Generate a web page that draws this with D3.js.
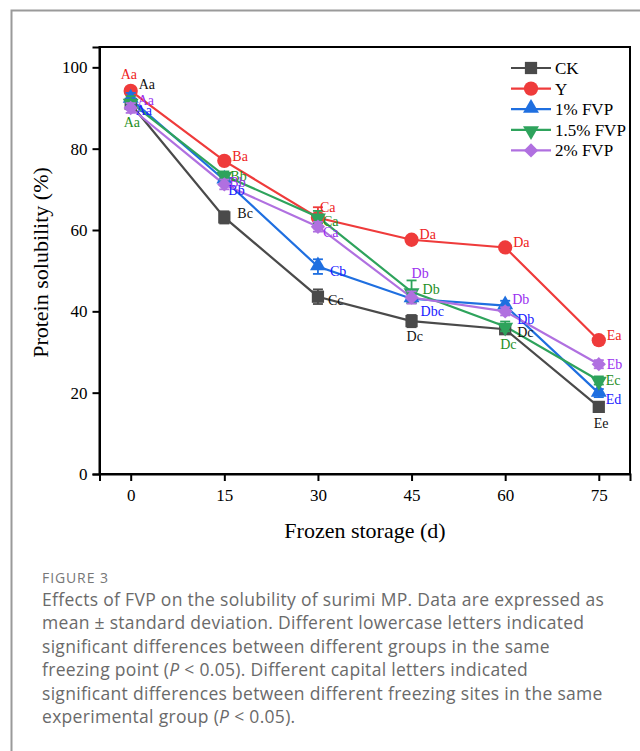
<!DOCTYPE html>
<html>
<head>
<meta charset="utf-8">
<script src="https://cdn.jsdelivr.net/npm/d3@7/dist/d3.min.js"></script>
<style>
  html, body { margin: 0; padding: 0; background: #fff; }
  svg { display: block; }
</style>
</head>
<body>
<script>
// Frozen storage days
const days = [0, 15, 30, 45, 60, 75];
const yTicks = [0, 20, 40, 60, 80, 100];

// Protein solubility (%) per group
const ck      = [91.0, 63.1, 43.6, 37.6, 35.6, 16.5];
const yeast   = [94.2, 77.0, 63.0, 57.6, 55.7, 32.9];
const fvp1    = [92.2, 72.3, 51.0, 43.1, 41.4, 19.9];
const fvp15   = [91.4, 73.4, 63.2, 44.8, 36.3, 23.0];
const fvp2    = [90.0, 71.2, 60.8, 43.4, 40.0, 27.0];

// Standard deviations
const ckSd    = [1.2, 1.5, 1.8, 1.5, 1.0, 1.0];
const yeastSd = [1.0, 0.8, 2.6, 0.8, 0.8, 0.8];
const fvp1Sd  = [1.5, 1.0, 1.8, 1.0, 1.2, 1.0];
const fvp15Sd = [1.5, 1.0, 1.5, 2.8, 1.2, 1.0];
const fvp2Sd  = [1.2, 1.2, 1.2, 1.5, 1.0, 1.0];

// Significance letters
const ckLbl    = ["Aa", "Bc", "Cc", "Dc", "Dc", "Ee"];
const yeastLbl = ["Aa", "Ba", "Ca", "Da", "Da", "Ea"];
const fvp1Lbl  = ["Aa", "Bb", "Cb", "Dbc", "Db", "Ed"];
const fvp15Lbl = ["Aa", "Bb", "Ca", "Db", "Dc", "Ec"];
const fvp2Lbl  = ["Aa", "Bb", "Ca", "Db", "Db", "Eb"];

const seriesNames = ["CK", "Y", "1% FVP", "1.5% FVP", "2% FVP"];

// Letter placement: pixel offsets of the text's left/baseline from the point
const ckOff    = [[8,-20],[13,-4],[10,3],[-5,15],[12,3],[-5,16]];
const yeastOff = [[-10,-17],[8,-5],[2,-11],[8,-6],[8,-5],[8,-5]];
const fvp1Off  = [[5,11],[4,10],[12,4],[9,12],[12,13],[7,6]];
const fvp15Off = [[-7,20],[6,0],[5,4],[11,-3],[-5,18],[7,0]];
const fvp2Off  = [[7,-8],[5,-2],[5,5],[0,-25],[7,-12],[8,0]];

const series = [
  { name: seriesNames[0], v: ck,    sd: ckSd,    lbl: ckLbl,    off: ckOff,    color: "#4a4a4a", text: "#111111", shape: "square" },
  { name: seriesNames[1], v: yeast, sd: yeastSd, lbl: yeastLbl, off: yeastOff, color: "#ef3b3b", text: "#ee2222", shape: "circle" },
  { name: seriesNames[2], v: fvp1,  sd: fvp1Sd,  lbl: fvp1Lbl,  off: fvp1Off,  color: "#1f6fe0", text: "#1a1aff", shape: "triUp" },
  { name: seriesNames[3], v: fvp15, sd: fvp15Sd, lbl: fvp15Lbl, off: fvp15Off, color: "#2ea35c", text: "#1f8f1f", shape: "triDown" },
  { name: seriesNames[4], v: fvp2,  sd: fvp2Sd,  lbl: fvp2Lbl,  off: fvp2Off,  color: "#b070e0", text: "#9a30f0", shape: "diamond" }
];

const W = 640, H = 751;
const svg = d3.select("body").append("svg").attr("width", W).attr("height", H);

// Panel frame
svg.append("path")
  .attr("d", "M11.5,760 V10.5 H650")
  .attr("fill", "none").attr("stroke", "#9a9a9a").attr("stroke-width", 2);

const L = 99.5, R = 630, T = 47, B = 474;
const x = d3.scaleLinear().domain([-5, 80]).range([L, R]);
const y = d3.scaleLinear().domain([0, 105]).range([B, T]);

const serif = "'Liberation Serif', 'Times New Roman', serif";

// Plot box
svg.append("rect").attr("x", L).attr("y", T).attr("width", R - L).attr("height", B - T)
  .attr("fill", "none").attr("stroke", "#000").attr("stroke-width", 2);

const yAxis = svg.append("g").attr("transform", `translate(${L},0)`)
  .call(d3.axisLeft(y).tickValues(yTicks).tickSize(7).tickPadding(5));
const xAxis = svg.append("g").attr("transform", `translate(0,${B})`)
  .call(d3.axisBottom(x).tickValues(days).tickSize(7).tickPadding(8));
[yAxis, xAxis].forEach(g => {
  g.select(".domain").attr("stroke", "#000").attr("stroke-width", 2);
  g.selectAll(".tick line").attr("stroke", "#000").attr("stroke-width", 2);
  g.selectAll(".tick text").attr("font-family", serif).attr("font-size", 17).attr("fill", "#000");
});

svg.append("text").attr("transform", `translate(48,${(T + B) / 2 + 2}) rotate(-90)`)
  .attr("text-anchor", "middle").attr("font-family", serif).attr("font-size", 22)
  .text("Protein solubility (%)");
svg.append("text").attr("x", 365).attr("y", 538)
  .attr("text-anchor", "middle").attr("font-family", serif).attr("font-size", 22)
  .text("Frozen storage (d)");

function marker(g, shape, color, cx, cy, s) {
  const sym = { square: d3.symbolSquare, circle: d3.symbolCircle, triUp: d3.symbolTriangle,
                triDown: d3.symbolTriangle, diamond: d3.symbolDiamond2 }[shape];
  const size = { square: 150, circle: 160, triUp: 110, triDown: 110, diamond: 130 }[shape] * s;
  let tr = `translate(${cx},${cy})`;
  if (shape === "triUp") tr = `translate(${cx},${cy - 1})`;
  if (shape === "triDown") tr = `translate(${cx},${cy + 1}) rotate(180)`;
  g.append("path").attr("d", d3.symbol(sym, size)()).attr("transform", tr).attr("fill", color);
}

const line = d3.line().x((d, i) => x(days[i])).y(d => y(d));

const plot = svg.append("g");
series.forEach(s => {
  plot.append("path").datum(s.v).attr("d", line)
    .attr("fill", "none").attr("stroke", s.color).attr("stroke-width", 2.2);
});
series.forEach(s => {
  const g = plot.append("g");
  s.v.forEach((v, i) => {
    const cx = x(days[i]);
    const y1 = y(v + s.sd[i]), y2 = y(v - s.sd[i]);
    g.append("line").attr("x1", cx).attr("x2", cx).attr("y1", y1).attr("y2", y2)
      .attr("stroke", s.color).attr("stroke-width", 1.8);
    [y1, y2].forEach(yy => g.append("line").attr("x1", cx - 5).attr("x2", cx + 5)
      .attr("y1", yy).attr("y2", yy).attr("stroke", s.color).attr("stroke-width", 1.8));
    marker(g, s.shape, s.color, cx, y(v), 1);
  });
});
// Significance letters
series.forEach(s => {
  s.v.forEach((v, i) => {
    svg.append("text").attr("x", x(days[i]) + s.off[i][0]).attr("y", y(v) + s.off[i][1] + 5)
      .attr("font-family", serif).attr("font-size", 14).attr("fill", s.text)
      .text(s.lbl[i]);
  });
});

// Legend
const lg = svg.append("g").attr("transform", "translate(511,68)");
series.forEach((s, i) => {
  const yy = i * 20.6;
  lg.append("line").attr("x1", 0).attr("x2", 40).attr("y1", yy).attr("y2", yy)
    .attr("stroke", s.color).attr("stroke-width", 2.2);
  marker(lg, s.shape, s.color, 20, yy, 1);
  lg.append("text").attr("x", 44).attr("y", yy + 6).attr("font-family", serif)
    .attr("font-size", 17).attr("fill", "#000").text(s.name);
});

// Caption
const sans = "'Open Sans', Lato, sans-serif";
svg.append("text").attr("x", 42).attr("y", 583).attr("font-family", sans)
  .attr("font-size", 14).attr("fill", "#777").attr("letter-spacing", 0.9).text("FIGURE 3");
const capLines = [
  ["Effects of FVP on the solubility of surimi MP. Data are expressed as"],
  ["mean \u00b1 standard deviation. Different lowercase letters indicated"],
  ["significant differences between different groups in the same"],
  ["freezing point (", "P", " < 0.05). Different capital letters indicated"],
  ["significant differences between different freezing sites in the same"],
  ["experimental group (", "P", " < 0.05)."]
];
capLines.forEach((parts, i) => {
  const t = svg.append("text").attr("x", 42).attr("y", 606 + i * 23.4)
    .attr("font-family", sans).attr("font-size", 17.5).attr("letter-spacing", 0.3)
    .attr("fill", "#6a6a6a");
  parts.forEach(p => {
    const ts = t.append("tspan").text(p);
    if (p === "P") ts.attr("font-style", "italic");
  });
});
</script>
</body>
</html>
